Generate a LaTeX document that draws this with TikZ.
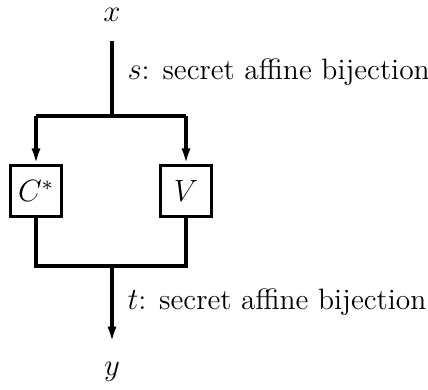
\documentclass[tikz,border=0pt]{standalone}
\usepackage{amsmath}
\usepackage{tikz}
\usetikzlibrary{arrows.meta, positioning, calc}

\begin{document}
\begin{tikzpicture}[>={Latex[length=6pt, width=3.6pt]}, x=0.39pt, y=-0.39pt, line width=1.2pt, font=\fontsize{11.5pt}{13.5pt}\selectfont]
				\useasboundingbox (0, 0) rectangle (428, 390);
				\node[inner sep=1pt] (x) at (112, 15) {$x$};
				\coordinate (top) at (112, 41);
				\coordinate (split) at (112, 116);
				\coordinate (sl) at (36, 116);
				\coordinate (sr) at (186, 116);
				
				\node[draw, rectangle, minimum size=20pt, inner sep=0pt] (cstar) at (36, 191) {$C^*$};
				\node[draw, rectangle, minimum size=20pt, inner sep=0pt] (v) at (186, 191) {$V$};
				
				\coordinate (jl) at (36, 266);
				\coordinate (jr) at (186, 266);
				\coordinate (join) at (112, 266);
				\coordinate (bot) at (112, 342);
				\node[inner sep=1pt] (y) at (112, 372) {$y$};
				
				\draw (top) -- (split);
				\draw (sl) -- (sr);
				\draw[->] (sl) -- (cstar);
				\draw[->] (sr) -- (v);
				\draw (cstar) -- (jl) -- (jr) -- (v);
				\draw[->] (join) -- (bot);
				
				\node[anchor=west, inner sep=0pt] (slabel) at (126, 72) {$s$: secret affine bijection};
				\node[anchor=west, inner sep=0pt] (tlabel) at (126, 302) {$t$: secret affine bijection};
			\end{tikzpicture}
\end{document}
